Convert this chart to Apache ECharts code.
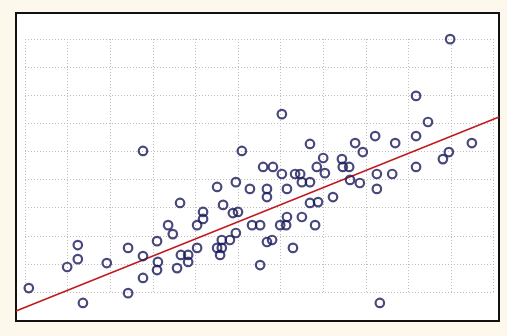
<!DOCTYPE html>
<html>
<head>
<meta charset="utf-8">
<script src="https://cdn.jsdelivr.net/npm/echarts@6/dist/echarts.min.js"></script>
<style>
  html, body { margin: 0; padding: 0; background: #fcf8ec; }
  #chart { width: 507px; height: 336px; }
</style>
</head>
<body>
<div id="chart"></div>
<script>
// Observations (x in grid-column units, y in grid-row units)
const xValues = [
  0.09, 1.36, 0.99, 1.24, 1.24, 1.92, 2.42, 2.42, 2.77, 2.77,
  2.77, 3.10, 3.12, 3.10, 3.36, 3.47, 3.57, 3.66, 3.83, 3.83,
  4.04, 4.04, 3.64, 4.18, 4.18, 4.51, 4.65, 4.51, 4.62, 4.58,
  4.62, 4.81, 4.95, 4.88, 5.00, 4.95, 5.09, 5.28, 5.33, 5.52,
  5.52, 5.68, 5.68, 5.68, 5.80, 5.59, 5.82, 6.03, 6.03, 6.15,
  5.99, 6.13, 6.15, 6.29, 6.34, 6.46, 6.50, 6.50, 6.69, 6.69,
  6.69, 6.88, 6.81, 6.85, 7.00, 7.04, 7.23, 7.44, 7.46, 7.61,
  7.63, 7.86, 7.75, 7.93, 8.22, 8.26, 8.26, 8.62, 8.69, 8.33,
  9.18, 9.18, 9.18, 9.46, 9.81, 9.95, 9.98, 10.49
];
const yValues = [
  0.14, -0.39, 0.89, 1.17, 1.67, 1.03, -0.04, 1.57, 5.02, 0.50,
  1.28, 1.81, 1.07, 0.78, 2.38, 2.06, 0.85, 1.32, 1.32, 1.07,
  1.57, 2.38, 3.17, 2.85, 2.60, 3.74, 3.10, 1.57, 1.57, 1.32,
  1.85, 1.85, 2.10, 2.81, 2.85, 3.91, 5.02, 3.67, 2.38, 2.38,
  0.96, 3.67, 3.38, 1.78, 1.85, 4.45, 4.45, 6.33, 4.20, 3.67,
  2.38, 2.38, 2.67, 1.57, 4.20, 4.20, 3.91, 2.67, 3.91, 5.27,
  3.17, 3.20, 2.38, 4.45, 4.77, 4.23, 3.38, 4.73, 4.45, 4.45,
  3.99, 3.88, 5.30, 4.98, 5.55, 4.20, 3.67, 4.20, 5.30, -0.39,
  6.98, 5.55, 4.45, 6.05, 4.73, 4.98, 9.00, 5.30
];

// Fitted trend line y = slope * x + intercept
const trendSlope = 0.609;
const trendIntercept = -0.548;

// Plot extents (data units) and grid-line counts
const xRange = [-0.211, 11.127];
const yRange = [-1.032, 9.93];
const gridColumns = 11;
const gridRows = 9;

const points = xValues.map((x, i) => [x, yValues[i]]);
const trend = xRange.map(x => [x, trendSlope * x + trendIntercept]);

const chart = echarts.init(document.getElementById('chart'), null, { renderer: 'canvas' });

const hiddenAxis = {
  axisLine: { show: false },
  axisTick: { show: false },
  axisLabel: { show: false },
  splitLine: { show: false }
};
const dotted = { show: true, lineStyle: { color: '#bdbdbd', type: [1, 2], width: 1 } };

chart.setOption({
  backgroundColor: '#fcf8ec',
  animation: false,
  grid: [
    // dotted reference grid
    { left: 25, top: 39, width: 468.6, height: 253, z: 0 },
    // framed plot area holding the data
    { left: 16, top: 13, width: 483, height: 308, show: true,
      backgroundColor: '#ffffff', borderColor: '#111111', borderWidth: 2, z: -1 }
  ],
  xAxis: [
    Object.assign({}, hiddenAxis, { type: 'value', gridIndex: 0, min: 0, max: gridColumns, interval: 1, splitLine: dotted, z: 1 }),
    Object.assign({}, hiddenAxis, { type: 'value', gridIndex: 1, min: xRange[0], max: xRange[1] })
  ],
  yAxis: [
    Object.assign({}, hiddenAxis, { type: 'value', gridIndex: 0, min: 0, max: gridRows, interval: 1, splitLine: dotted, z: 1 }),
    Object.assign({}, hiddenAxis, { type: 'value', gridIndex: 1, min: yRange[0], max: yRange[1] })
  ],
  series: [
    {
      type: 'line',
      xAxisIndex: 1, yAxisIndex: 1,
      data: trend,
      showSymbol: false,
      lineStyle: { color: '#c0161c', width: 1.4 },
      silent: true,
      z: 3
    },
    {
      type: 'scatter',
      xAxisIndex: 1, yAxisIndex: 1,
      data: points,
      symbol: 'circle',
      symbolSize: 8.5,
      itemStyle: { color: 'rgba(255,255,255,0)', borderColor: '#1a1a5c', borderWidth: 2.2 },
      z: 4
    }
  ]
});
</script>
</body>
</html>
